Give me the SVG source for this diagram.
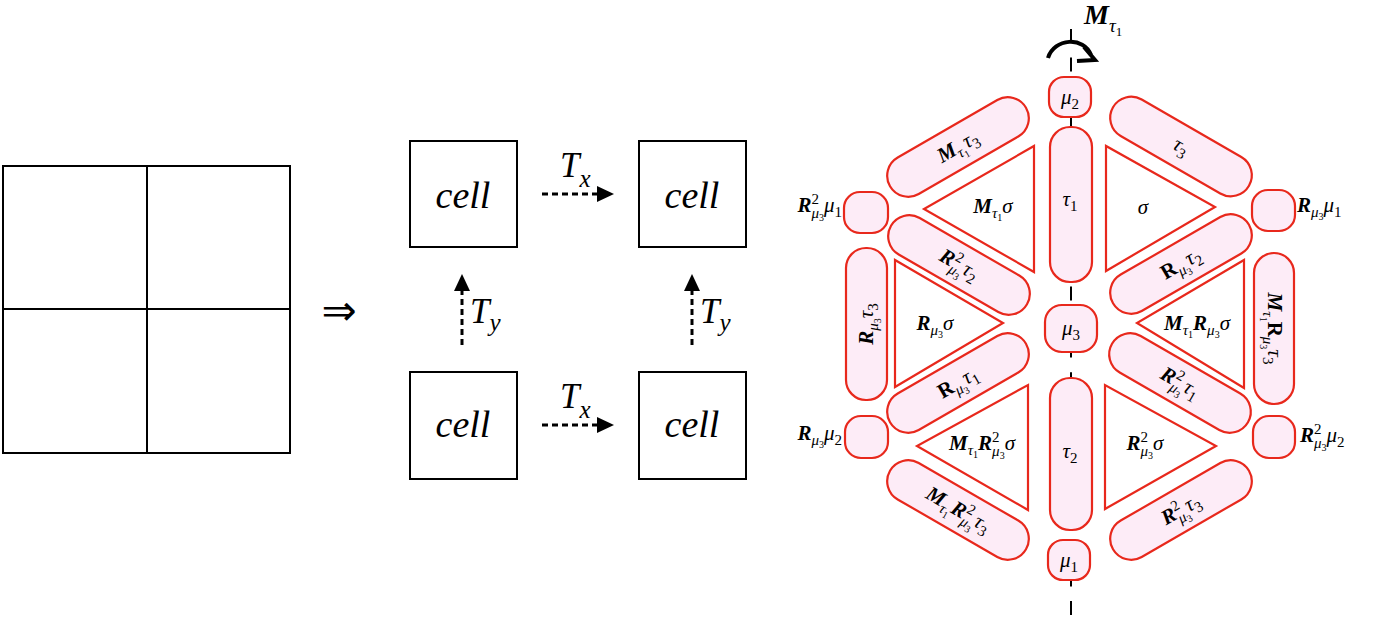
<svg xmlns="http://www.w3.org/2000/svg" width="1379" height="626" viewBox="0 0 1379 626">
<defs>
<style>
.t{font-family:"Liberation Serif","DejaVu Serif",serif;font-style:italic;font-size:21px;fill:#000}
.b{font-weight:bold}
.n{font-style:normal}
.s{font-size:15px}
.ss{font-size:10px}
.p{fill:#fdecf7;stroke:#e8281c;stroke-width:2.2}
.tri{fill:#fff;stroke:#e8281c;stroke-width:2.2}
.box{fill:#fff;stroke:#000;stroke-width:2}
.ct{font-family:"Liberation Serif","DejaVu Serif",serif;font-style:italic;font-size:38px;fill:#000}
.tl{font-family:"Liberation Serif","DejaVu Serif",serif;font-style:italic;font-size:35px;fill:#000}
.tls{font-size:25px}
.dash{stroke:#000;stroke-width:3;stroke-dasharray:6 4;fill:none}
</style>
<marker id="ah" markerUnits="userSpaceOnUse" markerWidth="17" markerHeight="16" refX="0" refY="8" orient="auto">
<path d="M0,0 L17,8 L0,16 z" fill="#000"/>
</marker>
</defs>
<rect width="1379" height="626" fill="#fff"/>

<g id="grid">
<rect x="3" y="166" width="287" height="287" fill="none" stroke="#000" stroke-width="2"/>
<line x1="147" y1="166" x2="147" y2="453" stroke="#000" stroke-width="2"/>
<line x1="3" y1="309" x2="290" y2="309" stroke="#000" stroke-width="2"/>
</g>
<g id="implies"><text x="339" y="325" text-anchor="middle" style="font-family:'DejaVu Sans',sans-serif;font-size:42px">⇒</text></g>

<g id="cell-tl"><rect class="box" x="410" y="141" width="107" height="106"/><text class="ct" x="463" y="208" text-anchor="middle">cell</text></g>
<g id="cell-tr"><rect class="box" x="639" y="141" width="107" height="106"/><text class="ct" x="692" y="208" text-anchor="middle">cell</text></g>
<g id="cell-bl"><rect class="box" x="410" y="372" width="107" height="107"/><text class="ct" x="463" y="437" text-anchor="middle">cell</text></g>
<g id="cell-br"><rect class="box" x="639" y="372" width="107" height="107"/><text class="ct" x="692" y="437" text-anchor="middle">cell</text></g>

<g id="connectors">
<line class="dash" x1="542" y1="194" x2="597" y2="194" marker-end="url(#ah)"/>
<line class="dash" x1="542" y1="425" x2="597" y2="425" marker-end="url(#ah)"/>
<line class="dash" x1="462" y1="345" x2="462" y2="291" marker-end="url(#ah)"/>
<line class="dash" x1="692" y1="345" x2="692" y2="291" marker-end="url(#ah)"/>
<line x1="1071" y1="29" x2="1071" y2="624" stroke="#000" stroke-width="2" stroke-dasharray="14 14.6"/>
<path d="M1048,58 C1054,38 1084,36 1091,55" fill="none" stroke="#000" stroke-width="4"/>
<path d="M1084,47 L1095,60 L1077,61" fill="none" stroke="#000" stroke-width="4" stroke-linejoin="miter"/>
</g>

<g id="labels-T">
<text class="tl" x="560" y="177">T<tspan class="tls" dy="10">x</tspan></text>
<text class="tl" x="560" y="408">T<tspan class="tls" dy="10">x</tspan></text>
<text class="tl" x="470" y="323">T<tspan class="tls" dy="8">y</tspan></text>
<text class="tl" x="700" y="323">T<tspan class="tls" dy="8">y</tspan></text>
<text x="1084" y="24" style="font-family:'Liberation Serif','DejaVu Serif',serif;font-style:italic;font-weight:bold;font-size:28px">M<tspan style="font-weight:normal;font-size:19px" dy="8">τ</tspan><tspan style="font-weight:normal;font-style:normal;font-size:13px" dy="4">1</tspan></text>
</g>

<!-- triangles -->
<g id="tri-Msigma"><polygon class="tri" points="1034,146 1034,272 924,209"/><text class="t" x="993" y="213" text-anchor="middle"><tspan class="b">M</tspan><tspan class="s" dy="5">τ</tspan><tspan class="ss n" dy="3">1</tspan><tspan dy="-8">σ</tspan></text></g>
<g id="tri-sigma"><polygon class="tri" points="1106,146 1106,271 1215,207"/><text class="t" x="1143" y="214" text-anchor="middle">σ</text></g>
<g id="tri-Rsigma"><polygon class="tri" points="895,260 895,387 1003,323"/><text class="t" x="935" y="330" text-anchor="middle"><tspan class="b">R</tspan><tspan class="s" dy="5">μ</tspan><tspan class="ss n" dy="3">3</tspan><tspan dy="-8">σ</tspan></text></g>
<g id="tri-MRsigma"><polygon class="tri" points="1244,260 1244,388 1137,323"/><text class="t" x="1197" y="330" text-anchor="middle"><tspan class="b">M</tspan><tspan class="s" dy="5">τ</tspan><tspan class="ss n" dy="3">1</tspan><tspan class="b" dy="-8">R</tspan><tspan class="s" dy="5">μ</tspan><tspan class="ss n" dy="3">3</tspan><tspan dy="-8">σ</tspan></text></g>
<g id="tri-MR2sigma"><polygon class="tri" points="1028,385 1028,510 917,446"/><text class="t" x="982" y="450" text-anchor="middle"><tspan class="b">M</tspan><tspan class="s" dy="5">τ</tspan><tspan class="ss n" dy="3">1</tspan><tspan class="b" dy="-8">R</tspan><tspan class="s n" dy="-8">2</tspan><tspan class="s" dx="-7.5" dy="14">μ</tspan><tspan class="ss n" dy="3">3</tspan><tspan dy="-9">σ</tspan></text></g>
<g id="tri-R2sigma"><polygon class="tri" points="1105,385 1105,509 1216,446"/><text class="t" x="1145" y="450" text-anchor="middle"><tspan class="b">R</tspan><tspan class="s n" dy="-8">2</tspan><tspan class="s" dx="-7.5" dy="14">μ</tspan><tspan class="ss n" dy="3">3</tspan><tspan dy="-9">σ</tspan></text></g>

<!-- vertical pills -->
<g id="pill-tau1"><rect class="p" x="1050" y="127" width="42" height="155" rx="20"/><text class="t" x="1070" y="206" text-anchor="middle">τ<tspan class="s n" dy="5">1</tspan></text></g>
<g id="pill-tau2"><rect class="p" x="1050" y="378" width="42" height="152" rx="20"/><text class="t" x="1070" y="458" text-anchor="middle">τ<tspan class="s n" dy="5">2</tspan></text></g>
<g id="pill-Rtau3" transform="translate(866.5,324) rotate(-90)"><rect class="p" x="-76" y="-20.5" width="152" height="41" rx="20"/><text class="t" x="0" y="6" text-anchor="middle"><tspan class="b">R</tspan><tspan class="s" dy="5">μ</tspan><tspan class="ss n" dy="3">3</tspan><tspan dy="-8">τ</tspan><tspan class="s n" dy="5">3</tspan></text></g>
<g id="pill-MRtau3" transform="translate(1274,328.5) rotate(90)"><rect class="p" x="-75.5" y="-20" width="151" height="40" rx="20"/><text class="t" x="0" y="6" text-anchor="middle"><tspan class="b">M</tspan><tspan class="s" dy="5">τ</tspan><tspan class="ss n" dy="3">1</tspan><tspan class="b n" dy="-8">R</tspan><tspan class="s" dy="5">μ</tspan><tspan class="ss n" dy="3">3</tspan><tspan dy="-8">τ</tspan><tspan class="s n" dy="5">3</tspan></text></g>

<!-- diagonal pills -->
<g id="pill-Mtau3" transform="translate(958,147) rotate(-30)"><rect class="p" x="-78.5" y="-21" width="157" height="42" rx="21"/><text class="t" x="0" y="6" text-anchor="middle"><tspan class="b">M</tspan><tspan class="s" dy="5">τ</tspan><tspan class="ss n" dy="3">1</tspan><tspan dy="-8">τ</tspan><tspan class="s n" dy="5">3</tspan></text></g>
<g id="pill-tau3" transform="translate(1181,146.5) rotate(30)"><rect class="p" x="-78.5" y="-21" width="157" height="42" rx="21"/><text class="t" x="0" y="6" text-anchor="middle">τ<tspan class="s n" dy="5">3</tspan></text></g>
<g id="pill-R2tau2" transform="translate(959,265) rotate(30)"><rect class="p" x="-78.5" y="-21" width="157" height="42" rx="21"/><text class="t" x="0" y="6" text-anchor="middle"><tspan class="b">R</tspan><tspan class="s n" dy="-8">2</tspan><tspan class="s" dx="-7.5" dy="14">μ</tspan><tspan class="ss n" dy="3">3</tspan><tspan dy="-9">τ</tspan><tspan class="s n" dy="5">2</tspan></text></g>
<g id="pill-Rtau2" transform="translate(1181,264) rotate(-30)"><rect class="p" x="-78.5" y="-21" width="157" height="42" rx="21"/><text class="t" x="0" y="6" text-anchor="middle"><tspan class="b n">R</tspan><tspan class="s" dy="5">μ</tspan><tspan class="ss n" dy="3">3</tspan><tspan dy="-8">τ</tspan><tspan class="s n" dy="5">2</tspan></text></g>
<g id="pill-Rtau1" transform="translate(958,383) rotate(-30)"><rect class="p" x="-78.5" y="-21" width="157" height="42" rx="21"/><text class="t" x="0" y="6" text-anchor="middle"><tspan class="b n">R</tspan><tspan class="s" dy="5">μ</tspan><tspan class="ss n" dy="3">3</tspan><tspan dy="-8">τ</tspan><tspan class="s n" dy="5">1</tspan></text></g>
<g id="pill-R2tau1" transform="translate(1180,383) rotate(30)"><rect class="p" x="-78.5" y="-21" width="157" height="42" rx="21"/><text class="t" x="0" y="6" text-anchor="middle"><tspan class="b">R</tspan><tspan class="s n" dy="-8">2</tspan><tspan class="s" dx="-7.5" dy="14">μ</tspan><tspan class="ss n" dy="3">3</tspan><tspan dy="-9">τ</tspan><tspan class="s n" dy="5">1</tspan></text></g>
<g id="pill-MR2tau3" transform="translate(958,510) rotate(30)"><rect class="p" x="-78.5" y="-21" width="157" height="42" rx="21"/><text class="t" x="0" y="6" text-anchor="middle"><tspan class="b">M</tspan><tspan class="s" dy="5">τ</tspan><tspan class="ss n" dy="3">1</tspan><tspan class="b" dy="-8">R</tspan><tspan class="s n" dy="-8">2</tspan><tspan class="s" dx="-7.5" dy="14">μ</tspan><tspan class="ss n" dy="3">3</tspan><tspan dy="-9">τ</tspan><tspan class="s n" dy="5">3</tspan></text></g>
<g id="pill-R2tau3" transform="translate(1181,510) rotate(-30)"><rect class="p" x="-78.5" y="-21" width="157" height="42" rx="21"/><text class="t" x="0" y="6" text-anchor="middle"><tspan class="b">R</tspan><tspan class="s n" dy="-8">2</tspan><tspan class="s" dx="-7.5" dy="14">μ</tspan><tspan class="ss n" dy="3">3</tspan><tspan dy="-9">τ</tspan><tspan class="s n" dy="5">3</tspan></text></g>

<!-- small pills -->
<g id="pill-mu2"><rect class="p" x="1049" y="77" width="42" height="40" rx="15"/><text class="t" x="1070" y="104" text-anchor="middle">μ<tspan class="s n" dy="5">2</tspan></text></g>
<g id="pill-mu3"><rect class="p" x="1045" y="305" width="52" height="47" rx="17"/><text class="t" x="1071" y="335" text-anchor="middle">μ<tspan class="s n" dy="5">3</tspan></text></g>
<g id="pill-mu1"><rect class="p" x="1048" y="540" width="42" height="40" rx="15"/><text class="t" x="1069" y="567" text-anchor="middle">μ<tspan class="s n" dy="5">1</tspan></text></g>
<g id="pill-R2mu1"><rect class="p" x="844" y="192" width="44" height="41" rx="16"/><text class="t" x="842" y="212" text-anchor="end"><tspan class="b">R</tspan><tspan class="s n" dy="-8">2</tspan><tspan class="s" dx="-7.5" dy="14">μ</tspan><tspan class="ss n" dy="3">3</tspan><tspan dy="-9">μ</tspan><tspan class="s n" dy="5">1</tspan></text></g>
<g id="pill-Rmu1"><rect class="p" x="1252" y="190" width="43" height="41" rx="16"/><text class="t" x="1297" y="212"><tspan class="b">R</tspan><tspan class="s" dy="5">μ</tspan><tspan class="ss n" dy="3">3</tspan><tspan dy="-8">μ</tspan><tspan class="s n" dy="5">1</tspan></text></g>
<g id="pill-Rmu2"><rect class="p" x="845" y="416" width="43" height="42" rx="16"/><text class="t" x="842" y="440" text-anchor="end"><tspan class="b">R</tspan><tspan class="s" dy="5">μ</tspan><tspan class="ss n" dy="3">3</tspan><tspan dy="-8">μ</tspan><tspan class="s n" dy="5">2</tspan></text></g>
<g id="pill-R2mu2"><rect class="p" x="1253" y="416" width="42" height="42" rx="16"/><text class="t" x="1300" y="442"><tspan class="b">R</tspan><tspan class="s n" dy="-8">2</tspan><tspan class="s" dx="-7.5" dy="14">μ</tspan><tspan class="ss n" dy="3">3</tspan><tspan dy="-9">μ</tspan><tspan class="s n" dy="5">2</tspan></text></g>
</svg>
